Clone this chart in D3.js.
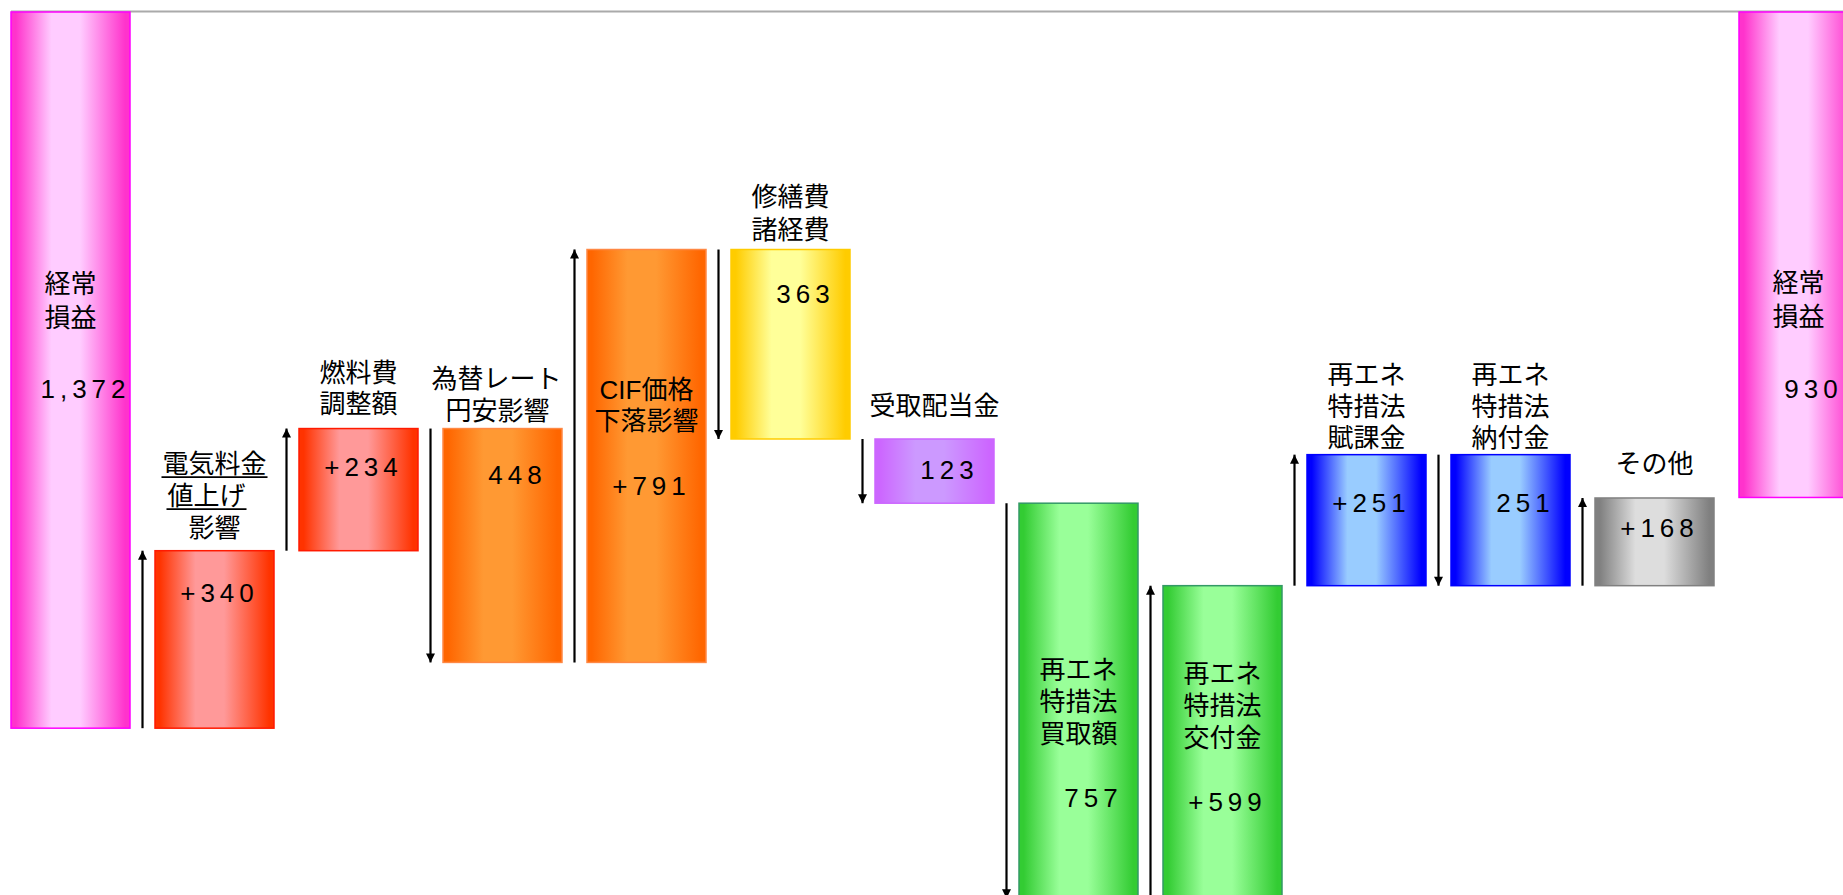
<!DOCTYPE html>
<html lang="ja">
<head>
<meta charset="utf-8">
<title>経常損益の増減要因</title>
<script src="https://cdn.jsdelivr.net/npm/d3@7"></script>
<style>
  html, body { margin: 0; padding: 0; background: #fff; overflow: hidden; }
  svg { display: block; }
  text { font-family: "Liberation Sans", "Noto Sans CJK JP", sans-serif; fill: #000; }
</style>
</head>
<body>
<svg id="chart" width="1843" height="895"></svg>
<script>
// ---- data -------------------------------------------------------------
// step names (one entry per line of the label)
const categories = [
  ["経常", "損益"],
  ["電気料金", "値上げ", "影響"],
  ["燃料費", "調整額"],
  ["為替レート", "円安影響"],
  ["CIF価格", "下落影響"],
  ["修繕費", "諸経費"],
  ["受取配当金"],
  ["再エネ", "特措法", "買取額"],
  ["再エネ", "特措法", "交付金"],
  ["再エネ", "特措法", "賦課金"],
  ["再エネ", "特措法", "納付金"],
  ["その他"],
  ["経常", "損益"]
];
// "total" bars hang from zero, "delta" bars float between running levels
const kinds = ["total", "delta", "delta", "delta", "delta", "delta", "delta",
               "delta", "delta", "delta", "delta", "delta", "total"];
// 億円 (losses are negative)
const values = [-1372, 340, 234, -448, 791, -363, -123, -757, 599, 251, -251, 168, -930];
// colour family of each bar
const families = ["pink", "red", "red", "orange", "orange", "yellow", "purple",
                  "green", "green", "blue", "blue", "gray", "pink"];

// ---- styling / layout -------------------------------------------------
const W = 1843, H = 895;
const palette = {
  pink:   { edge: "#ff33cc", mid: "#ffccff", stroke: "#ff00ff" },
  red:    { edge: "#ff3300", mid: "#ff9999", stroke: "#ff1a00" },
  orange: { edge: "#ff6600", mid: "#ff9933", stroke: "#ff8844" },
  yellow: { edge: "#ffcc00", mid: "#ffff99", stroke: "#ffcc00" },
  purple: { edge: "#cc66ff", mid: "#cc99ff", stroke: "#cc66ff" },
  green:  { edge: "#33cc33", mid: "#99ff99", stroke: "#339966" },
  blue:   { edge: "#0000ff", mid: "#99ccff", stroke: "#0000ff" },
  gray:   { edge: "#808080", mid: "#dddddd", stroke: "#808080" }
};
// label placement: offset of first line centre from bar top, value label offset
const catDy   = [271.5, -87, -56, -50, 140, -52.5, -33.3, 166.7, 88.7, -79.3, -79.3, -34, 270.5];
const valDy   = [377, 42, 38.3, 46.7, 236, 44, 30.7, 295, 216, 48.2, 48.2, 30.4, 376.5];
const catPitch = [34.5, 32, 31.5, 32, 31, 32.5, 32, 32, 32, 31.5, 31.5, 32, 34.5];
const lineDx = { "値上げ": -8, "為替レート": -6, "円安影響": -5 };
const underlined = new Set(["電気料金", "値上げ"]);

// ---- levels -----------------------------------------------------------
let running = 0;
const steps = values.map((v, i) => {
  let start, end;
  if (kinds[i] === "total") { start = 0; end = v; }
  else { start = running; end = running + v; }
  running = end;
  const label = kinds[i] === "total"
    ? d3.format(",")(Math.abs(v))
    : (v > 0 ? "+" + d3.format(",")(v) : d3.format(",")(-v));
  return { i, start, end, v, kind: kinds[i], lines: categories[i], fam: families[i], label, signed: v > 0 && kinds[i] !== "total" };
});

// ---- scales -----------------------------------------------------------
const x = d3.scaleBand()
  .domain(d3.range(values.length))
  .range([11, 11 + 12 * 144 + 119])
  .paddingInner(25 / 144)
  .paddingOuter(0);

const y = d3.scaleLinear()
  .domain([0, -1700])
  .range([12, 12 + 1700 * 0.522]);

const svg = d3.select("#chart");

// gradients: dark edges, light centre band
const defs = svg.append("defs");
Object.entries(palette).forEach(([name, c]) => {
  const g = defs.append("linearGradient")
    .attr("id", "grad-" + name)
    .attr("x1", 0).attr("x2", 1).attr("y1", 0).attr("y2", 0);
  [[0, c.edge], [0.04, c.edge], [0.34, c.mid], [0.58, c.mid], [0.96, c.edge], [1, c.edge]]
    .forEach(([o, col]) => g.append("stop").attr("offset", o).attr("stop-color", col));
});
defs.append("marker")
  .attr("id", "arrowhead")
  .attr("viewBox", "0 0 10 10")
  .attr("refX", 10).attr("refY", 5)
  .attr("markerUnits", "userSpaceOnUse")
  .attr("markerWidth", 10).attr("markerHeight", 9)
  .attr("orient", "auto")
  .append("path").attr("d", "M0,0 L10,5 L0,10 Z").attr("fill", "#000");

// zero line
svg.append("line")
  .attr("x1", x(0)).attr("x2", W)
  .attr("y1", y(0) - 0.5).attr("y2", y(0) - 0.5)
  .attr("stroke", "#aaaaaa").attr("stroke-width", 2);

// bars
svg.append("g").selectAll("rect")
  .data(steps)
  .join("rect")
  .attr("x", d => x(d.i))
  .attr("width", x.bandwidth())
  .attr("y", d => Math.min(y(d.start), y(d.end)))
  .attr("height", d => Math.abs(y(d.start) - y(d.end)))
  .attr("fill", d => `url(#grad-${d.fam})`)
  .attr("stroke", d => palette[d.fam].stroke)
  .attr("stroke-width", 1.5);

// direction arrows beside each change
svg.append("g").selectAll("line")
  .data(steps.filter(d => d.kind === "delta"))
  .join("line")
  .attr("x1", d => x(d.i) - 12.5).attr("x2", d => x(d.i) - 12.5)
  .attr("y1", d => y(d.start))
  .attr("y2", d => y(d.end))
  .attr("stroke", "#000").attr("stroke-width", 2.2)
  .attr("marker-end", "url(#arrowhead)");

// category labels
const catG = svg.append("g");
steps.forEach(d => {
  const top = Math.min(y(d.start), y(d.end));
  const cx = x(d.i) + x.bandwidth() / 2;
  d.lines.forEach((ln, j) => {
    const ly = top + catDy[d.i] + j * catPitch[d.i];
    const t = catG.append("text")
      .attr("x", cx + (lineDx[ln] || 0))
      .attr("y", ly)
      .attr("text-anchor", "middle")
      .attr("dominant-baseline", "central")
      .style("font-size", "26px")
      .text(ln);
    if (underlined.has(ln)) {
      const w = t.node().getComputedTextLength();
      const x0 = cx + (lineDx[ln] || 0) - w / 2;
      catG.append("line")
        .attr("x1", x0 - 1).attr("x2", x0 + w + 1)
        .attr("y1", ly + 13.5).attr("y2", ly + 13.5)
        .attr("stroke", "#000").attr("stroke-width", 1.8);
    }
  });
});

// value labels (unsigned figures keep the sign slot empty)
svg.append("g").selectAll("text")
  .data(steps)
  .join("text")
  .attr("x", d => x(d.i) + x.bandwidth() / 2 + (d.signed ? 5 : 15))
  .attr("y", d => Math.min(y(d.start), y(d.end)) + valDy[d.i])
  .attr("text-anchor", "middle")
  .attr("dominant-baseline", "central")
  .style("font-size", "26px")
  .style("letter-spacing", "5px")
  .text(d => d.label);
</script>
</body>
</html>
